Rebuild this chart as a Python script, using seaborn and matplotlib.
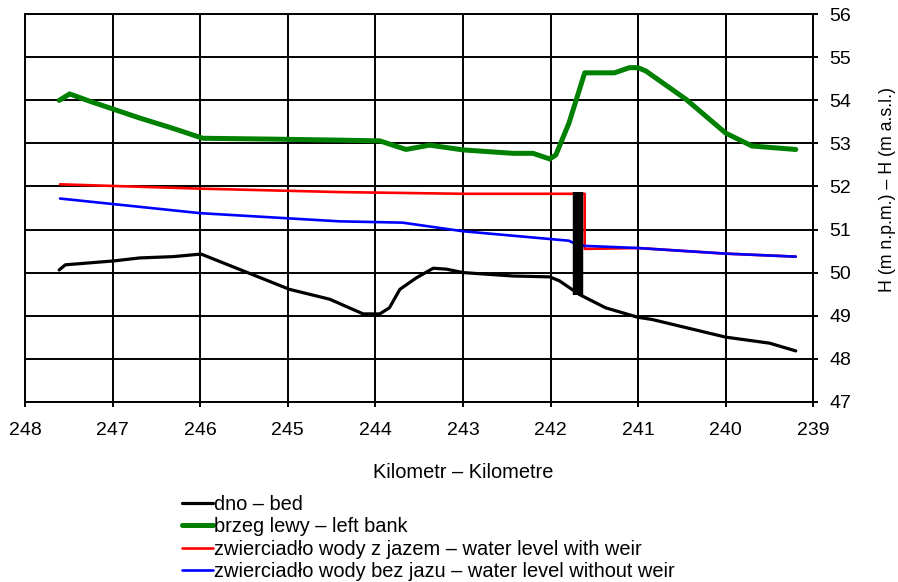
import matplotlib
matplotlib.use("Agg")
import matplotlib.pyplot as plt
import seaborn as sns

# ---- data ----
bed_km = [247.61, 247.54, 246.99, 246.69, 246.31, 245.99, 244.98, 244.52, 244.14, 243.95,
          243.84, 243.72, 243.53, 243.34, 243.19, 243.0, 242.43, 242.01, 241.9, 241.67,
          241.37, 241.0, 240.84, 240.0, 239.5, 239.2]
bed_h = [50.06, 50.18, 50.27, 50.34, 50.37, 50.43, 49.61, 49.38, 49.04, 49.04,
         49.18, 49.61, 49.88, 50.1, 50.08, 50.0, 49.92, 49.9, 49.81, 49.49,
         49.18, 48.96, 48.91, 48.5, 48.36, 48.18]

bank_km = [247.61, 247.49, 247.26, 246.69, 246.31, 245.97, 245.17, 244.52, 243.95, 243.65,
           243.38, 243.0, 242.43, 242.2, 242.01, 241.94, 241.79, 241.61, 241.27, 241.1,
           241.0, 240.91, 240.45, 240.0, 239.7, 239.39, 239.2]
bank_h = [54.0, 54.15, 53.98, 53.59, 53.35, 53.12, 53.1, 53.08, 53.06, 52.86,
          52.96, 52.85, 52.77, 52.77, 52.64, 52.73, 53.47, 54.64, 54.64, 54.76,
          54.76, 54.68, 54.02, 53.24, 52.94, 52.89, 52.86]

weir_wl_km = [247.6, 246.0, 244.41, 243.0, 241.61, 241.61, 241.0, 240.0, 239.2]
weir_wl_h = [52.05, 51.95, 51.87, 51.83, 51.83, 50.55, 50.57, 50.44, 50.37]

nowe_wl_km = [247.6, 246.0, 244.41, 243.69, 243.0, 242.01, 241.79, 241.71, 241.61, 241.0, 240.0, 239.2]
nowe_wl_h = [51.72, 51.38, 51.19, 51.16, 50.96, 50.78, 50.74, 50.66, 50.62, 50.57, 50.44, 50.37]

weir_km = [241.69, 241.69]
weir_h = [51.87, 49.49]

x_ticks = [248, 247, 246, 245, 244, 243, 242, 241, 240, 239]
y_ticks = [47, 48, 49, 50, 51, 52, 53, 54, 55, 56]

labels = ["dno – bed", "brzeg lewy – left bank",
          "zwierciadło wody z jazem – water level with weir",
          "zwierciadło wody bez jazu – water level without weir"]

# ---- style ----
sns.set_style("white")
plt.rcParams['font.family'] = ['Liberation Sans', 'DejaVu Sans']
plt.rcParams['text.color'] = 'black'
plt.rcParams['axes.labelcolor'] = 'black'
plt.rcParams['xtick.color'] = 'black'
plt.rcParams['ytick.color'] = 'black'

W, H = 898, 582
fig = plt.figure(figsize=(W / 100, H / 100), dpi=100)
ax = fig.add_axes([25 / W, 1 - 401.7 / H, (813.3 - 25) / W, (401.7 - 14.3) / H])

sns.lineplot(x=bed_km, y=bed_h, sort=False, estimator=None, color="black", lw=2.3, ax=ax, label=labels[0])
sns.lineplot(x=bank_km, y=bank_h, sort=False, estimator=None, color="#008000", lw=3.6, ax=ax, label=labels[1])
sns.lineplot(x=weir_wl_km, y=weir_wl_h, sort=False, estimator=None, color="#ff0000", lw=1.9, ax=ax, label=labels[2])
sns.lineplot(x=nowe_wl_km, y=nowe_wl_h, sort=False, estimator=None, color="#0000ff", lw=1.9, ax=ax, label=labels[3])
ax.plot(weir_km, weir_h, color="black", lw=7.5, solid_capstyle="butt")

ax.set_xlim(x_ticks[0], x_ticks[-1])
ax.set_ylim(y_ticks[0], y_ticks[-1])
ax.set_xticks(x_ticks)
ax.set_yticks(y_ticks)
ax.set_xticklabels([str(t) for t in x_ticks])
ax.set_yticklabels([str(t) for t in y_ticks])
ax.yaxis.tick_right()
ax.yaxis.set_label_position("right")
ax.grid(True, color="black", lw=1.4)
ax.set_axisbelow(True)
for s in ax.spines.values():
    s.set_color("black")
    s.set_linewidth(1.4)
ax.tick_params(axis="both", direction="out", length=3.6, width=1.4, color="black",
               labelsize=14, labelcolor="black")
ax.tick_params(axis="x", pad=11, bottom=True)
ax.tick_params(axis="y", pad=8, right=True, left=False)
ax.set_xlabel("")
ax.set_ylabel("")

fig.text(463 / W, 1 - 472 / H, "Kilometr – Kilometre", ha="center", va="center",
         fontsize=14.4, color="black")
fig.text(888 / W, 1 - 190 / H, "H (m n.p.m.) – H (m a.s.l.)", ha="center", va="center",
         rotation=90, fontsize=12.8, color="black")

handles, labs = ax.get_legend_handles_labels()
if ax.legend_:
    ax.legend_.remove()
leg = fig.legend(handles, labs, loc="upper left", bbox_to_anchor=(181.7 / W, 1 - 495 / H),
                 frameon=False, fontsize=14.4, handlelength=1.55, handletextpad=0.08,
                 labelspacing=0.17, borderpad=0, borderaxespad=0)
for t in leg.get_texts():
    t.set_color("black")

fig.savefig("out.png", dpi=100)
